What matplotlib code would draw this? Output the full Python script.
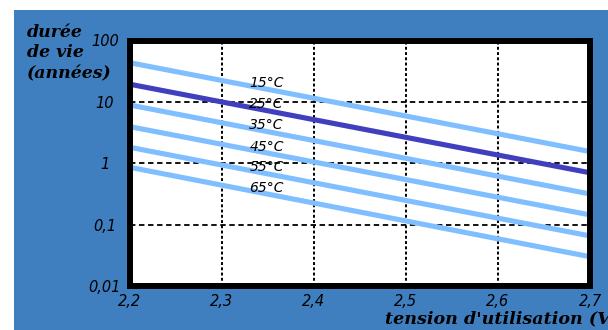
import numpy as np
import matplotlib.pyplot as plt
from matplotlib.patches import Rectangle

# lifetime (years) at 2.2 V and 2.7 V for each temperature
temps = ["15°C", "25°C", "35°C", "45°C", "55°C", "65°C"]
volts = [2.2, 2.7]
life_22 = [43.5, 19.4, 8.9, 3.95, 1.82, 0.86]
life_27 = [1.55, 0.70, 0.316, 0.144, 0.0655, 0.030]
label_x = 2.33
label_y = [20.1, 9.2, 4.2, 1.84, 0.87, 0.40]

xticks = [2.2, 2.3, 2.4, 2.5, 2.6, 2.7]
xtick_labels = ["2,2", "2,3", "2,4", "2,5", "2,6", "2,7"]
yticks = [0.01, 0.1, 1, 10, 100]
ytick_labels = ["0,01", "0,1", "1", "10", "100"]
ylabel_lines = ["durée", "de vie", "(années)"]

light = "#80bfff"
dark = "#4040bf"
bg = "#3f7fbf"

W, H = 608, 330
fig = plt.figure(figsize=(W / 100, H / 100), dpi=100, facecolor="white")
fig.patches.append(Rectangle((14 / W, 0), 1, 1 - 10 / H, transform=fig.transFigure,
                             facecolor=bg, edgecolor="none", zorder=-1))

ax = fig.add_axes([129.7 / W, 1 - 286 / H, (590 - 129.7) / W, (286 - 40.5) / H])
ax.set_facecolor("white")
ax.set_yscale("log")
ax.set_xlim(2.2, 2.7)
ax.set_ylim(0.01, 100)

for i, t in enumerate(temps):
    c = dark if t == "25°C" else light
    ax.plot(volts, [life_22[i], life_27[i]], color=c, lw=3.7, solid_capstyle="butt", zorder=3)
    ax.text(label_x, label_y[i], t, fontsize=10, style="italic", family="DejaVu Sans",
            va="center", ha="left", zorder=4)

for x in xticks[1:-1]:
    ax.axvline(x, color="black", lw=1.4, ls=(0, (1.5, 1.2)), zorder=2)
for y in yticks[1:-1]:
    ax.axhline(y, color="black", lw=1.3, ls=(0, (3, 2)), zorder=2)

for s in ax.spines.values():
    s.set_linewidth(4.3)
    s.set_color("black")
    s.set_zorder(5)

ax.set_xticks(xticks)
ax.set_xticklabels(xtick_labels)
ax.set_yticks(yticks)
ax.set_yticklabels(ytick_labels)
ax.minorticks_off()
ax.tick_params(length=0, labelsize=10.5, pad=6)
ax.tick_params(axis="y", pad=18)
for lab in ax.get_xticklabels() + ax.get_yticklabels():
    lab.set_fontstyle("italic")
for lab in ax.get_yticklabels():
    lab.set_horizontalalignment("center")

# axis titles, written as separate lines like the original artwork
for line, base in zip(ylabel_lines, [37, 57, 78]):
    fig.text(27 / W, 1 - base / H, line, family="DejaVu Serif", weight="bold",
             style="italic", fontsize=12.5, va="baseline", ha="left")
fig.text(385 / W, 1 - 323 / H, "tension d'utilisation (V)", family="DejaVu Serif",
         weight="bold", style="italic", fontsize=12.6, va="baseline", ha="left")

fig.savefig("out.png", dpi=100, facecolor=fig.get_facecolor())
